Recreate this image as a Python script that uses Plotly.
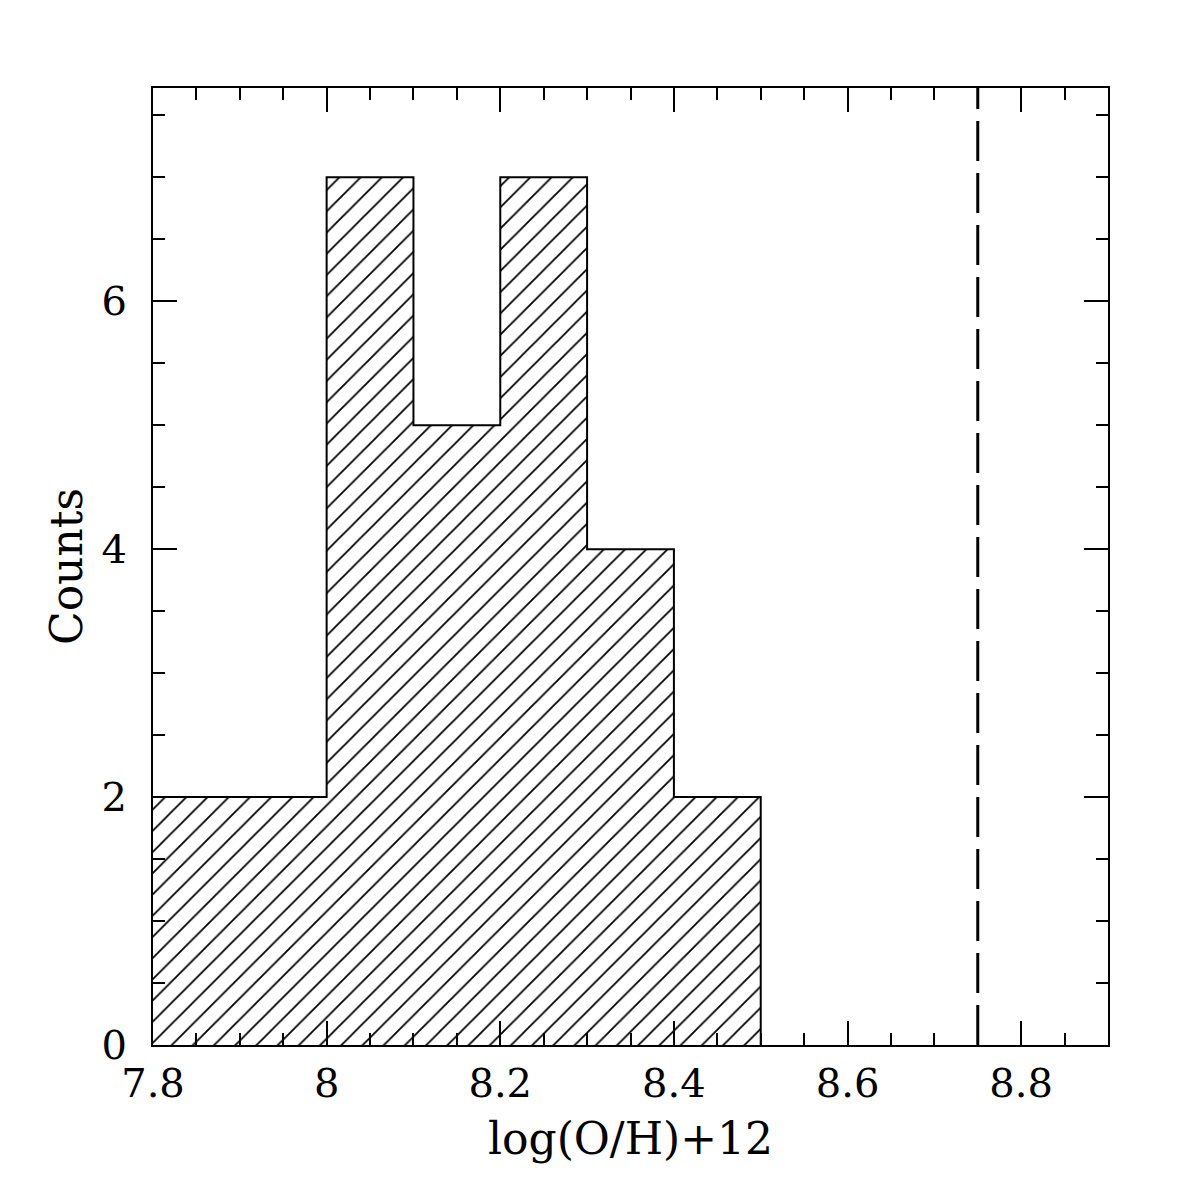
import plotly.graph_objects as go

# histogram of log(O/H)+12, bins of 0.1 dex
bin_left = [7.8, 7.9, 8.0, 8.1, 8.2, 8.3, 8.4]
counts = [2, 2, 7, 5, 7, 4, 2]
bin_width = 0.1
solar_value = 8.75

x_range = [7.8, 8.9]
y_range = [0, 7.72]

x_ticks = [7.8, 8.0, 8.2, 8.4, 8.6, 8.8]
x_ticklabels = ['7.8', '8', '8.2', '8.4', '8.6', '8.8']
y_ticks = [0, 2, 4, 6]

FONT = 'DejaVu Serif'

fig = go.Figure()

# hatched fill, no outline (outline drawn as a step line below)
fig.add_trace(go.Bar(
    x=[b + bin_width / 2 for b in bin_left], y=counts, width=bin_width,
    marker=dict(color='white', line=dict(width=0),
                pattern=dict(shape='/', size=15, solidity=0.12, fgcolor='black',
                             fgopacity=1, bgcolor='white')),
    showlegend=False))

# outline of the histogram
edges = bin_left + [bin_left[-1] + bin_width]
fig.add_trace(go.Scatter(
    x=edges, y=counts + [0], mode='lines', line_shape='hv',
    line=dict(color='black', width=2), showlegend=False))

# dashed vertical line
fig.add_trace(go.Scatter(
    x=[solar_value, solar_value], y=y_range, mode='lines',
    line=dict(color='black', width=3, dash='40px,12px'), showlegend=False))

axis_common = dict(showgrid=False, zeroline=False, showline=True, linecolor='black',
                   linewidth=2, mirror='ticks', ticks='inside', tickcolor='black',
                   tickwidth=1.5, ticklen=24,
                   tickfont=dict(family=FONT, size=40, color='black'))

fig.update_xaxes(range=x_range, tickvals=x_ticks, ticktext=x_ticklabels,
                 ticklabelstandoff=2,
                 minor=dict(dtick=0.05, tick0=7.8, ticks='inside', ticklen=12,
                            tickcolor='black', tickwidth=1.5),
                 title=dict(text='log(O/H)+12', font=dict(family=FONT, size=44, color='black'),
                            standoff=18),
                 **axis_common)
fig.update_yaxes(range=y_range, tickvals=y_ticks,
                 ticklabelstandoff=16,
                 minor=dict(dtick=0.5, tick0=0, ticks='inside', ticklen=12,
                            tickcolor='black', tickwidth=1.5),
                 title=dict(text='Counts', font=dict(family=FONT, size=44, color='black'),
                            standoff=5),
                 **axis_common)

fig.update_layout(width=1196, height=1196, plot_bgcolor='white', paper_bgcolor='white',
                  margin=dict(l=145, r=96, t=80, b=159), bargap=0)

fig.write_html("out.html")
